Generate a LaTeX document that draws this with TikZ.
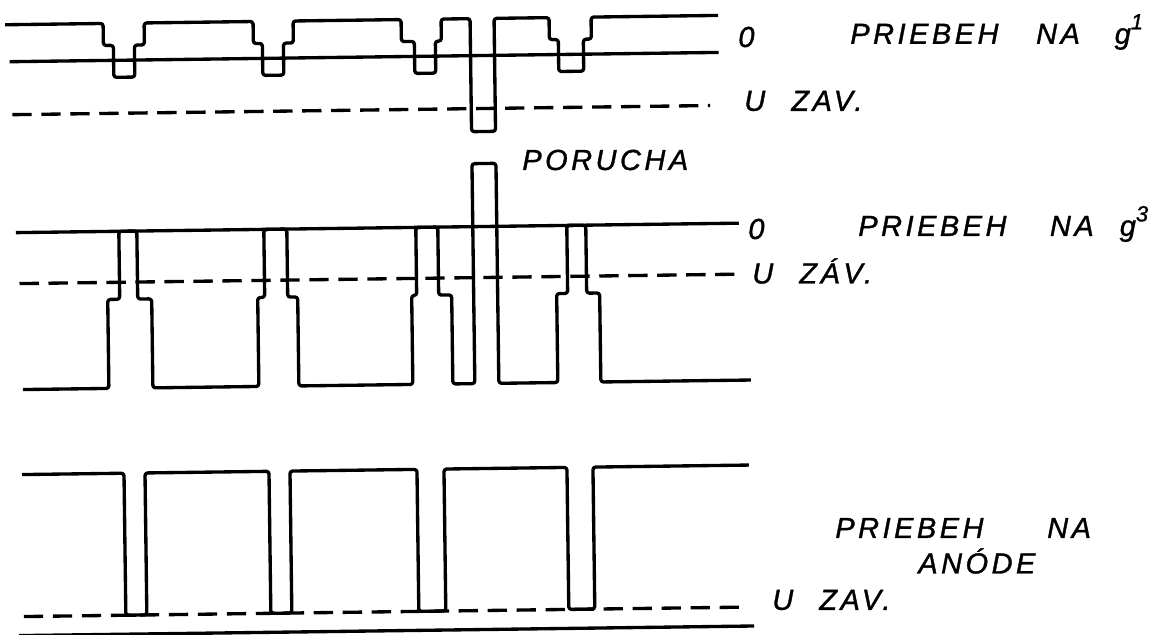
\documentclass[tikz,border=0pt]{standalone}
\usepackage{fontspec}
\newfontfamily\stencilfont[LetterSpace=12,FakeBold=1.2]{Liberation Sans}
\newcommand{\gridsup}[1]{\raisebox{0.5em}{\fontsize{12.5}{12.5}\selectfont #1}}
\usetikzlibrary{positioning}

\begin{document}
\begin{tikzpicture}[x=0.02cm, y=-0.02cm,
    signal/.style={line width=1.9pt, rounded corners=1.5pt, line join=round},
    zeroline/.style={line width=1.9pt},
    zavline/.style={line width=1.9pt, dash pattern=on 11pt off 5.5pt},
    lbl/.style={font=\stencilfont\itshape\fontsize{16.5}{18}\selectfont,
      inner sep=0pt, anchor=west}]
  \useasboundingbox (0,0) rectangle (1170,635);

  \begin{scope}[rotate around={0.75:(370,320)}]
    % Priebeh na g1
    \draw[zeroline] (13,57) -- (722,57);
    \draw[zavline] (15,110) -- (713,110);
    \draw[signal] (9,20) -- (107,20) -- (107,42) -- (117,42) -- (117,74)
      -- (138,74) -- (138,42) -- (148,42) -- (148,20)
      -- (257,20) -- (257,42) -- (266,42) -- (266,74) -- (287,74)
      -- (287,42) -- (297,42) -- (297,20)
      -- (405,20) -- (405,42) -- (418,42) -- (418,74) -- (439,74)
      -- (439,42) -- (445,42) -- (445,20)
      -- (474,20) -- (474,133) -- (498,133) -- (498,20)
      -- (553,20) -- (553,42) -- (562,42) -- (562,74) -- (587,74)
      -- (587,42) -- (595,42) -- (595,20) -- (722,20);

    % Priebeh na g3
    \draw[zeroline] (17,228) -- (740,228);
    \draw[zavline] (20,279) -- (735,279);
    \draw[signal] (22,385) -- (108,385) -- (108,296) -- (120,296) -- (120,228)
      -- (138,228) -- (138,296) -- (152,296) -- (152,385)
      -- (258,385) -- (258,296) -- (265,296) -- (265,228) -- (288,228)
      -- (288,296) -- (298,296) -- (298,385)
      -- (412,385) -- (412,296) -- (417,296) -- (417,228) -- (439,228)
      -- (439,296) -- (452,296) -- (452,385)
      -- (474,385) -- (474,165) -- (498,165) -- (498,385)
      -- (557,385) -- (557,296) -- (568,296) -- (568,228) -- (587,228)
      -- (587,296) -- (600,296) -- (600,385) -- (750,385);

    % Priebeh na anode
    \draw[zavline] (20,612) -- (742,612);
    \draw[zeroline] (15,631) -- (750,631);
    \draw[signal] (20,470) -- (122,470) -- (122,612) -- (143,612) -- (143,470)
      -- (267,470) -- (267,612) -- (288,612) -- (288,470)
      -- (415,470) -- (415,612) -- (442,612) -- (442,470)
      -- (565,470) -- (565,612) -- (591,612) -- (591,470) -- (747,470);
  \end{scope}

  % Labels
  \node[lbl] (o1) at (738,37) {0};
  \node[lbl] (prieb1) at (850,32) {PRIEBEH\hspace{1.3em}NA\hspace{1.2em}g\gridsup{1}};
  \node[lbl] (uzav1) at (744,101) {U\hspace{0.9em}ZAV.};
  \node[lbl] (porucha) at (522,160) {PORUCHA};
  \node[lbl] (o3) at (748,229) {0};
  \node[lbl] (prieb3) at (858,224) {PRIEBEH\hspace{1.5em}NA\hspace{0.9em}g\gridsup{3}};
  \node[lbl] (uzav3) at (752,271) {U\hspace{0.9em}ZÁV.};
  \node[lbl] (priebA) at (835,528) {PRIEBEH\hspace{2.2em}NA};
  \node[lbl] (anode) at (918,561) {ANÓDE};
  \node[lbl] (uzavA) at (772,600) {U\hspace{0.9em}ZAV.};
\end{tikzpicture}
\end{document}
